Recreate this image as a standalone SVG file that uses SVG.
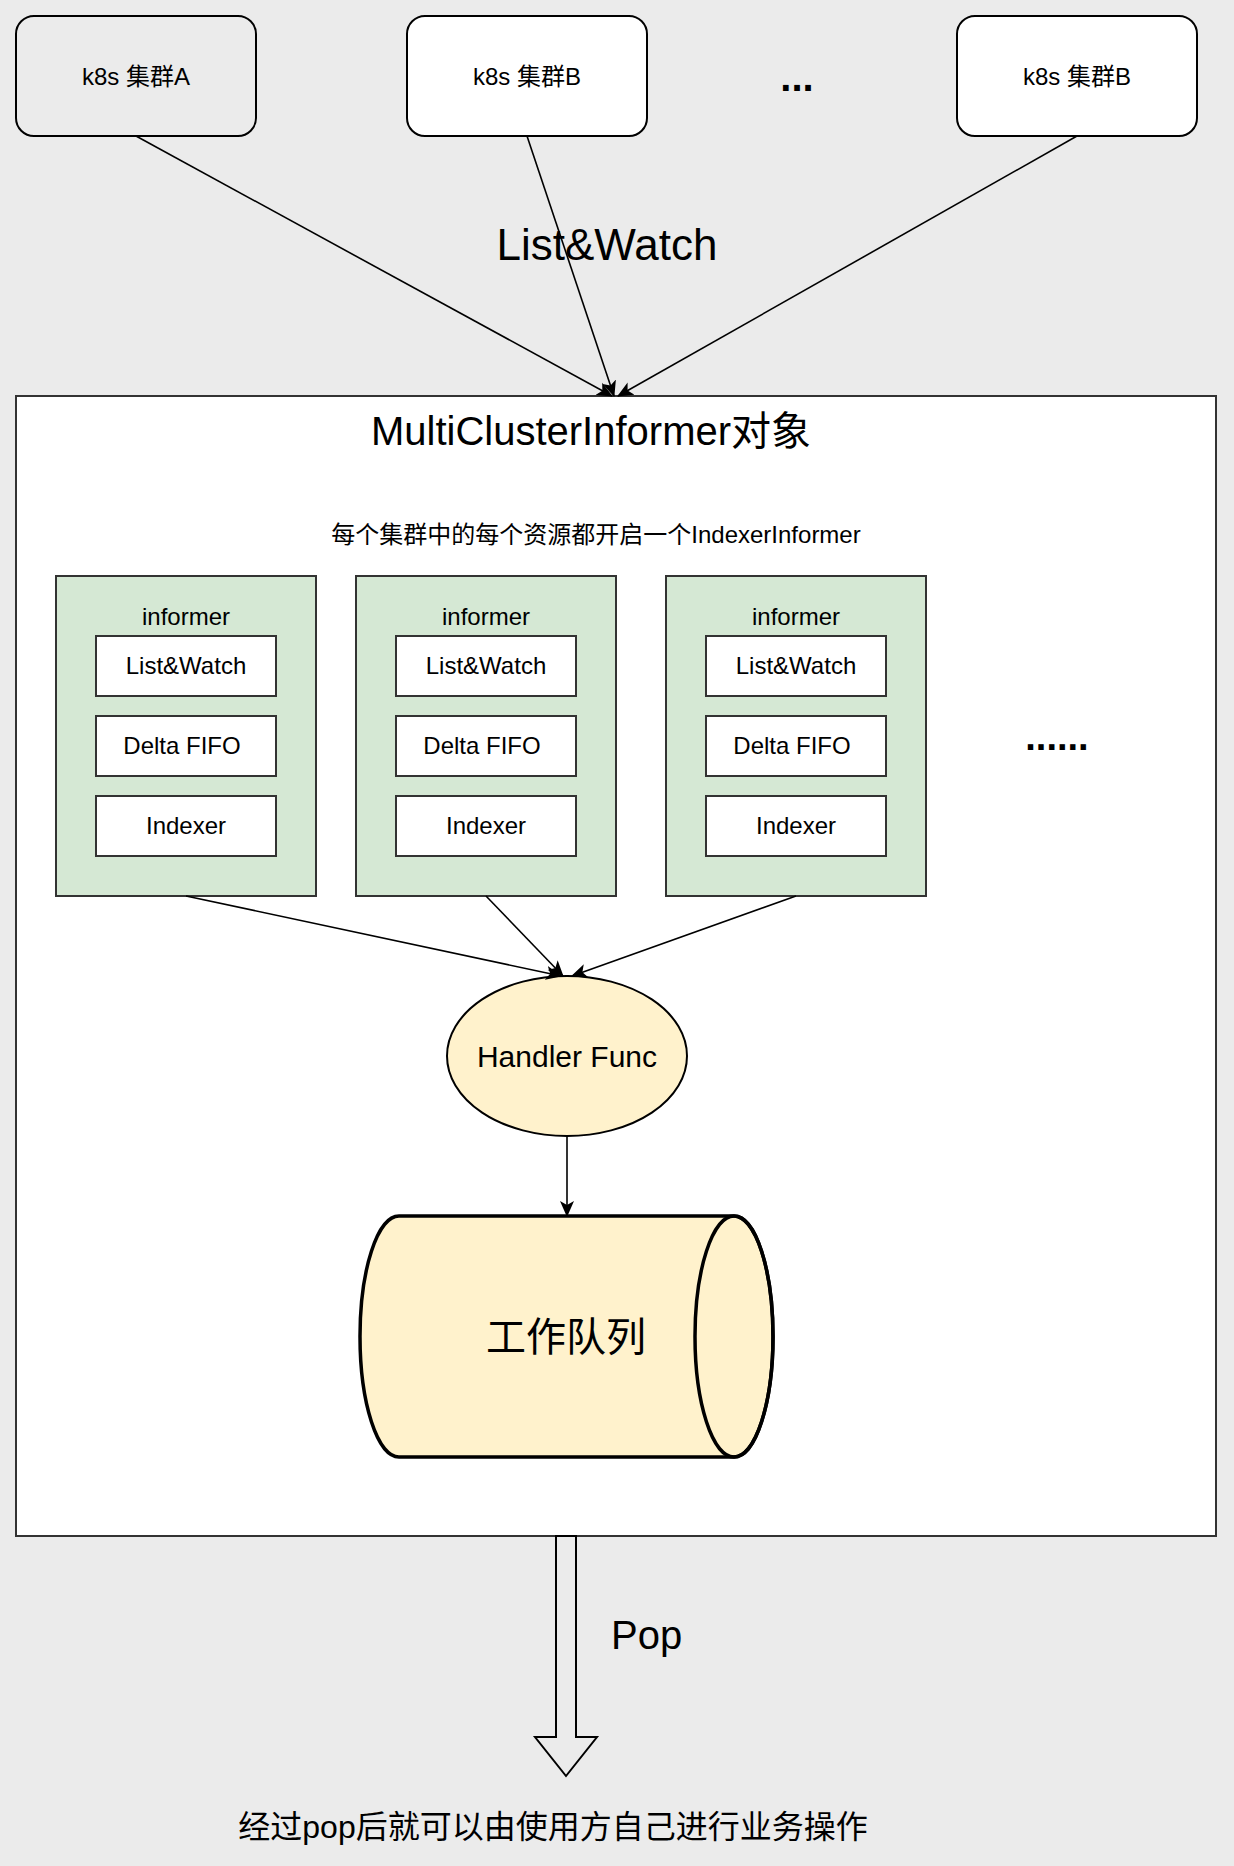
<svg xmlns="http://www.w3.org/2000/svg" width="1234" height="1866" viewBox="0 0 1234 1866">
<defs>
<style>
text{font-family:"Liberation Sans","Noto Sans CJK SC",sans-serif;fill:#000;text-anchor:middle}
.cl{stroke:#000;stroke-width:2}
.inf{fill:#d5e8d4;stroke:#333;stroke-width:2}
.inner{fill:#fff;stroke:#333;stroke-width:2}
.edge{fill:none;stroke:#000;stroke-width:1.6;marker-end:url(#arr)}
.t24{font-size:24px}
</style>
<marker id="arr" viewBox="0 0 16 16" refX="15" refY="8" markerWidth="16" markerHeight="16" markerUnits="userSpaceOnUse" orient="auto">
<path d="M0,1 L16,8 L0,15 L4,8 Z" fill="#000"/>
</marker>
</defs>
<rect x="0" y="0" width="1234" height="1866" fill="#ebebeb"/>

<g id="clusterA">
<rect x="16" y="16" width="240" height="120" rx="18" fill="#ebebeb" class="cl"/>
<text x="136" y="85" class="t24">k8s 集群A</text>
</g>
<g id="clusterB">
<rect x="407" y="16" width="240" height="120" rx="18" fill="#fff" class="cl"/>
<text x="527" y="85" class="t24">k8s 集群B</text>
</g>
<g id="ellipsis-top">
<text x="797" y="91" style="font-size:40px;font-weight:bold">...</text>
</g>
<g id="clusterB2">
<rect x="957" y="16" width="240" height="120" rx="18" fill="#fff" class="cl"/>
<text x="1077" y="85" class="t24">k8s 集群B</text>
</g>

<g id="container">
<rect x="16" y="396" width="1200" height="1140" fill="#fff" stroke="#333" stroke-width="2"/>
<text x="591" y="445" style="font-size:40px">MultiClusterInformer对象</text>
<text x="596" y="543" class="t24">每个集群中的每个资源都开启一个IndexerInformer</text>
</g>

<g id="informer1">
<rect x="56" y="576" width="260" height="320" class="inf"/>
<text x="186" y="625" class="t24">informer</text>
<rect x="96" y="636" width="180" height="60" class="inner"/>
<text x="186" y="674" class="t24">List&amp;Watch</text>
<rect x="96" y="716" width="180" height="60" class="inner"/>
<text x="182" y="754" class="t24">Delta FIFO</text>
<rect x="96" y="796" width="180" height="60" class="inner"/>
<text x="186" y="834" class="t24">Indexer</text>
</g>
<g id="informer2">
<rect x="356" y="576" width="260" height="320" class="inf"/>
<text x="486" y="625" class="t24">informer</text>
<rect x="396" y="636" width="180" height="60" class="inner"/>
<text x="486" y="674" class="t24">List&amp;Watch</text>
<rect x="396" y="716" width="180" height="60" class="inner"/>
<text x="482" y="754" class="t24">Delta FIFO</text>
<rect x="396" y="796" width="180" height="60" class="inner"/>
<text x="486" y="834" class="t24">Indexer</text>
</g>
<g id="informer3">
<rect x="666" y="576" width="260" height="320" class="inf"/>
<text x="796" y="625" class="t24">informer</text>
<rect x="706" y="636" width="180" height="60" class="inner"/>
<text x="796" y="674" class="t24">List&amp;Watch</text>
<rect x="706" y="716" width="180" height="60" class="inner"/>
<text x="792" y="754" class="t24">Delta FIFO</text>
<rect x="706" y="796" width="180" height="60" class="inner"/>
<text x="796" y="834" class="t24">Indexer</text>
</g>
<g id="ellipsis-mid">
<text x="1057" y="750" style="font-size:38px;font-weight:bold">......</text>
</g>

<g id="handler">
<ellipse cx="567" cy="1056" rx="120" ry="80" fill="#fff2cc" stroke="#000" stroke-width="2"/>
<text x="567" y="1067" style="font-size:30px">Handler Func</text>
</g>

<g id="workqueue">
<path d="M399,1216 L734,1216 A39,120.5 0 0 1 734,1457 L399,1457 A39,120.5 0 0 1 399,1216 Z" fill="#fff2cc" stroke="#000" stroke-width="3.5"/>
<ellipse cx="734" cy="1336.5" rx="39" ry="120.5" fill="none" stroke="#000" stroke-width="3.5"/>
<text x="566" y="1351" style="font-size:40px">工作队列</text>
</g>

<g id="pop">
<polygon points="556,1536 576,1536 576,1737 597,1737 566,1776 535,1737 556,1737" fill="#ebebeb" stroke="#000" stroke-width="2"/>
<text x="611" y="1649" style="font-size:40px;text-anchor:start">Pop</text>
</g>
<g id="result">
<text x="553" y="1838" style="font-size:32px">经过pop后就可以由使用方自己进行业务操作</text>
</g>

<g id="connectors">
<path class="edge" d="M136,136 L612,396"/>
<path class="edge" d="M527,136 L614,396"/>
<path class="edge" d="M1077,136 L618,396"/>
<path class="edge" d="M186,896 L561,976"/>
<path class="edge" d="M486,896 L563,976"/>
<path class="edge" d="M796,896 L572,976"/>
<path class="edge" d="M567,1136 L567,1216"/>
</g>
<text x="607" y="260" style="font-size:44px">List&amp;Watch</text>
</svg>
